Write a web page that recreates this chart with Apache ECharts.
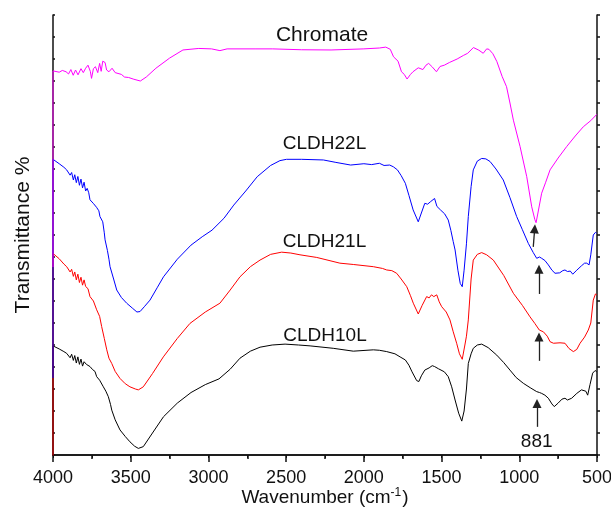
<!DOCTYPE html>
<html>
<head>
<meta charset="utf-8">
<script src="https://cdn.jsdelivr.net/npm/echarts@6/dist/echarts.min.js"></script>
<style>html,body{margin:0;padding:0;background:#fff}#c{width:611px;height:507px}</style>
</head>
<body>
<div id="c"></div>
<script>
// [wavenumber (cm-1), transmittance (offset, arbitrary units)]
const chromate = [[4000,42.7],[4000,87.3],[3960,87.0],[3940,87.4],[3916,87.1],[3900,86.6],[3885,87.6],[3870,86.3],[3855,87.5],[3839,86.4],[3820,87.8],[3805,86.9],[3790,87.9],[3775,88.6],[3760,87.2],[3752,85.6],[3740,87.8],[3727,88.25],[3712,86.9],[3700,89.0],[3690,87.2],[3680,89.5],[3665,89.2],[3655,87.5],[3640,87.1],[3620,87.9],[3600,86.9],[3588,86.75],[3560,86.5],[3540,85.9],[3514,85.8],[3480,85.4],[3438,85.0],[3400,85.9],[3338,87.9],[3250,90.2],[3164,92.05],[3062,92.4],[2980,92.3],[2926,91.9],[2880,92.3],[2700,92.3],[2586,92.3],[2400,92.1],[2211,92.05],[2000,92.3],[1900,92.5],[1859,92.7],[1830,92.2],[1809,90.5],[1780,89.5],[1758,87.1],[1740,86.5],[1722,85.45],[1700,86.5],[1684,87.1],[1650,88],[1620,87.6],[1600,88.6],[1583,89.0],[1560,88.2],[1533,87.1],[1510,88.3],[1482,88.6],[1450,89.2],[1400,90.0],[1360,90.8],[1332,91.3],[1295,92.6],[1260,92.0],[1232,91.3],[1210,92.3],[1195,92.2],[1170,91.2],[1144,89.4],[1110,86.0],[1082,83.7],[1060,80.0],[1038,76.1],[995,70.1],[952,63.25],[920,56.4],[900,53.5],[892,52.8],[880,55],[856,59.5],[830,62],[802,64.8],[750,67.5],[695,70.1],[640,72.5],[588,74.6],[540,76.0],[502,77.4]];

const cldh22l = [[4000,17.5],[4000,67.2],[3960,66.2],[3930,65.4],[3912,64.8],[3900,64.9],[3890,63.6],[3880,64.2],[3869,62.5],[3860,63.7],[3850,61.9],[3840,63.3],[3830,61.3],[3820,62.7],[3810,60.7],[3800,62.0],[3790,60.0],[3780,60.6],[3770,59.6],[3762,58.0],[3752,58.3],[3741,57.2],[3720,56.3],[3705,55.5],[3698,54.2],[3680,53.0],[3670,50.5],[3665,48.9],[3650,46.5],[3640,44.5],[3633,42.8],[3610,40.0],[3590,37.5],[3560,35.8],[3526,34.5],[3490,33.4],[3460,32.5],[3440,32.6],[3410,33.8],[3376,35.2],[3330,38.0],[3289,40.5],[3200,44.5],[3112,47.7],[3040,49.6],[2977,51.1],[2900,53.8],[2837,56.8],[2760,60.0],[2686,63.25],[2600,65.8],[2540,66.9],[2498,67.2],[2400,67.2],[2260,67.05],[2180,66.5],[2085,65.9],[2000,66.2],[1950,66.0],[1900,66.3],[1870,65.8],[1834,65.9],[1810,65.5],[1784,64.8],[1760,63.5],[1733,61.75],[1710,59.0],[1683,55.7],[1650,53.0],[1630,55.0],[1608,57.2],[1590,57.0],[1570,57.6],[1560,57.3],[1545,58.3],[1530,56.5],[1507,55.7],[1480,54.8],[1457,53.4],[1440,51.0],[1425,48.5],[1413,46.6],[1395,42.0],[1380,39.0],[1367,38.25],[1355,42.0],[1340,48.0],[1328,54.2],[1310,61.0],[1296,64.8],[1270,66.8],[1242,67.4],[1215,67.3],[1188,66.7],[1150,65.0],[1103,62.5],[1060,58.5],[1017,54.2],[980,51.2],[942,48.1],[910,46.0],[888,44.7],[870,45.0],[856,44.7],[835,44.2],[813,43.2],[790,42.0],[770,41.3],[740,41.4],[720,41.9],[706,42.05],[690,41.7],[672,41.8],[656,41.1],[630,42.0],[600,43.0],[580,43.6],[566,43.6],[551,43.2],[540,45.5],[524,50.0],[510,50.6],[502,50.4]];

const cldh21l = [[4000,-5],[4000,45.8],[3960,44.6],[3930,43.4],[3912,42.8],[3900,42.9],[3890,41.6],[3880,42.2],[3869,40.6],[3860,41.6],[3850,39.8],[3840,41.1],[3830,39.2],[3820,40.4],[3810,38.6],[3800,39.8],[3790,38.3],[3775,37.8],[3762,36.0],[3740,35.0],[3719,33.0],[3700,31.5],[3687,29.2],[3670,26.5],[3654,23.9],[3640,22.0],[3622,20.8],[3600,19.0],[3569,17.4],[3535,16.2],[3505,15.5],[3470,15.0],[3451,14.8],[3419,15.5],[3360,18.5],[3290,22.3],[3200,26.5],[3119,29.9],[3020,32.5],[2926,34.5],[2860,37.5],[2797,40.5],[2730,42.8],[2668,44.3],[2600,45.6],[2529,46.1],[2470,45.9],[2411,45.5],[2303,44.9],[2154,43.6],[2068,43.3],[1939,42.8],[1880,42.4],[1853,42.05],[1820,41.9],[1789,41.3],[1760,40.0],[1724,38.25],[1700,36.2],[1682,34.5],[1650,32.05],[1625,34.0],[1596,36.0],[1580,35.7],[1565,36.4],[1550,36.0],[1531,36.4],[1515,34.8],[1499,33.7],[1470,32.5],[1446,30.7],[1425,28.0],[1403,25.4],[1385,23.0],[1367,21.75],[1350,25.0],[1340,27.0],[1328,30.7],[1310,40.0],[1296,44.3],[1270,45.6],[1242,46.0],[1210,45.5],[1167,44.3],[1100,40.8],[1038,36.75],[980,34.0],[931,31.4],[900,29.9],[871,28.4],[845,28.0],[820,27.0],[802,25.75],[780,25.4],[738,25.5],[706,25.4],[680,24.2],[652,23.5],[630,24.0],[609,25.4],[580,26.8],[556,28.4],[540,30.0],[524,35.2],[510,36.6],[502,36.4]];

const cldh10l = [[4000,-5],[4000,24.8],[3960,24.1],[3930,23.5],[3912,23.1],[3900,23.3],[3890,22.1],[3880,22.9],[3869,21.5],[3860,22.6],[3850,20.9],[3840,22.3],[3830,20.6],[3820,21.8],[3810,20.2],[3800,21.2],[3785,20.6],[3762,20.1],[3745,19.4],[3730,19.0],[3719,17.8],[3700,17.0],[3676,15.5],[3660,14.5],[3644,13.25],[3630,11.5],[3622,10.2],[3600,8.0],[3569,5.7],[3535,4.2],[3505,3.0],[3475,2.0],[3451,1.5],[3419,1.9],[3360,5.0],[3289,8.7],[3200,11.8],[3112,14.2],[3020,16.0],[2932,17.3],[2860,19.5],[2797,22.0],[2730,23.6],[2668,24.5],[2590,25.0],[2507,25.2],[2420,25.0],[2346,24.8],[2197,24.25],[2068,23.6],[1939,23.9],[1900,23.8],[1853,23.5],[1800,23.0],[1767,22.3],[1733,21.6],[1710,20.4],[1690,18.9],[1660,16.9],[1646,16.7],[1630,18.0],[1608,19.3],[1580,19.8],[1560,20.3],[1545,20.1],[1520,19.6],[1482,18.9],[1457,17.8],[1435,15.5],[1413,12.5],[1390,9.5],[1370,7.7],[1355,10.0],[1340,15.0],[1328,20.8],[1310,23.0],[1296,24.25],[1270,25.0],[1242,25.2],[1200,24.4],[1145,22.7],[1100,21.0],[1060,19.3],[1020,17.6],[974,16.3],[930,15.3],[888,14.4],[870,14.2],[856,14.0],[835,13.6],[813,12.9],[790,11.6],[775,11.0],[750,11.8],[725,12.7],[706,12.9],[690,12.5],[680,12.6],[663,12.9],[630,14.0],[600,14.8],[588,14.8],[572,14.5],[560,13.6],[545,16.0],[528,18.6],[512,19.2],[502,18.9]];

// Annotation texts placed in data coordinates
const labelTexts = ['Chromate', 'CLDH22L', 'CLDH21L', 'CLDH10L', '881'];
const labelWn = [2269, 2253, 2253, 2250, 888];
const labelT = [95.3, 70.7, 48.4, 27.2, 3.0];
const labelSize = [21, 19, 19, 19, 19];

// Arrows (from -> to) in data coordinates
const arrowFrom = [[910, 47.3], [873, 36.6], [873, 21.4], [886, 6.4]];
const arrowTo = [[901, 51.4], [873, 42.2], [873, 26.8], [886, 11.7]];

const FONT = 'Liberation Sans, Arial, sans-serif';
const AX = '#111';

const chart = echarts.init(document.getElementById('c'), null, {renderer: 'canvas'});

const markPointData = labelTexts.map((t, i) => ({
  name: t, coord: [labelWn[i], labelT[i]],
  label: {fontSize: labelSize[i]}
}));
const markLineData = arrowFrom.map((f, i) => [{coord: f}, {coord: arrowTo[i]}]);

function lineSeries(name, data, color, extra) {
  return Object.assign({
    name, type: 'line', data, showSymbol: false, symbol: 'none',
    lineStyle: {color, width: 1}, itemStyle: {color},
    animation: false, silent: true
  }, extra || {});
}

chart.setOption({
  animation: false,
  backgroundColor: '#fff',
  grid: {left: 53, right: 14, top: 15, bottom: 52, containLabel: false, outerBoundsMode: 'none'},
  xAxis: [{
    type: 'value', inverse: true, min: 500, max: 4000, interval: 500, position: 'bottom',
    axisLine: {show: true, lineStyle: {color: AX, width: 1.5}},
    axisTick: {show: true, inside: false, length: 7, lineStyle: {color: AX, width: 1.5}},
    minorTick: {show: true, splitNumber: 2, length: 4, lineStyle: {color: AX, width: 1.5}},
    axisLabel: {fontSize: 18, color: '#111', margin: 14, fontFamily: FONT, formatter: v => String(v)},
    splitLine: {show: false}, minorSplitLine: {show: false},
    name: '{a|Wavenumber (cm}{s|-1}{a|)}',
    nameLocation: 'middle', nameGap: 32, nameMoveOverlap: false,
    nameTextStyle: {
      fontSize: 19, color: '#111', fontFamily: FONT,
      rich: {
        a: {fontSize: 19, color: '#111', fontFamily: FONT, lineHeight: 21},
        s: {fontSize: 12, color: '#111', fontFamily: FONT, verticalAlign: 'top', lineHeight: 21, padding: [0, 1, 9, 0]}
      }
    }
  }, {
    type: 'value', inverse: true, min: 500, max: 4000, interval: 250, position: 'top',
    axisLine: {show: true, lineStyle: {color: AX, width: 1.5}},
    axisTick: {show: true, inside: true, length: 3, lineStyle: {color: AX, width: 1}},
    axisLabel: {show: false}, splitLine: {show: false}
  }],
  yAxis: [{
    type: 'value', min: 0, max: 100, interval: 5, position: 'left',
    axisLine: {show: true, lineStyle: {color: AX, width: 1.5}},
    axisTick: {show: true, inside: true, length: 2, lineStyle: {color: AX, width: 1.5}},
    axisLabel: {show: false}, splitLine: {show: false},
    name: 'Transmittance %', nameLocation: 'middle', nameGap: 19, nameMoveOverlap: false,
    nameTextStyle: {fontSize: 21, color: '#111', fontFamily: FONT}
  }, {
    type: 'value', min: 0, max: 100, interval: 5, position: 'right',
    axisLine: {show: true, lineStyle: {color: AX, width: 1.5}},
    axisTick: {show: true, inside: false, length: 3, lineStyle: {color: AX, width: 1.5}},
    axisLabel: {show: false}, splitLine: {show: false}
  }],
  series: [
    lineSeries('CLDH10L', cldh10l, '#000000', {
      markPoint: {
        silent: true, animation: false, symbol: 'circle', symbolSize: 0,
        itemStyle: {color: 'transparent'},
        label: {show: true, position: 'inside', formatter: '{b}', color: '#111', fontFamily: FONT, fontSize: 19},
        data: markPointData
      },
      markLine: {
        silent: true, animation: false, symbol: ['none', 'triangle'], symbolSize: 9,
        lineStyle: {color: '#222', width: 1.3, type: 'solid'},
        label: {show: false},
        data: markLineData
      }
    }),
    lineSeries('CLDH21L', cldh21l, '#ff0000'),
    lineSeries('CLDH22L', cldh22l, '#0000ff'),
    lineSeries('Chromate', chromate, '#ff00ff')
  ]
});
</script>
</body>
</html>
